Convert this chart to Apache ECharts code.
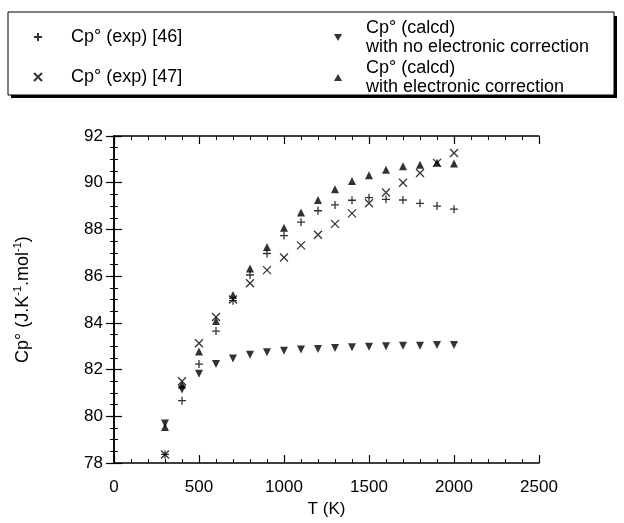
<!DOCTYPE html>
<html>
<head>
<meta charset="utf-8">
<script src="https://cdn.jsdelivr.net/npm/echarts@6/dist/echarts.min.js"></script>
<style>
html,body{margin:0;padding:0;background:#fff;}
#chart{width:624px;height:523px;}
</style>
</head>
<body>
<div id="chart"></div>
<script>
// ---- data ----
var temps = [300,400,500,600,700,800,900,1000,1100,1200,1300,1400,1500,1600,1700,1800,1900,2000];
var expRef46 = [78.37,80.67,82.24,83.65,84.95,86.05,86.97,87.74,88.31,88.80,89.05,89.25,89.36,89.29,89.26,89.12,89.00,88.87];
var expRef47 = [78.37,81.50,83.13,84.25,85.00,85.70,86.26,86.80,87.32,87.77,88.24,88.69,89.12,89.58,90.00,90.42,90.85,91.27];
var calcNoCorr = [79.70,81.15,81.82,82.24,82.48,82.64,82.74,82.81,82.86,82.88,82.93,82.96,82.98,83.00,83.02,83.02,83.05,83.06];
var calcCorr = [79.55,81.35,82.78,84.08,85.20,86.33,87.25,88.07,88.73,89.26,89.72,90.07,90.32,90.56,90.70,90.77,90.85,90.82];
var xTicks = {min:0, max:2500, interval:500};
var yTicks = {min:78, max:92, interval:2};
var names = ['Cp° (exp) [46]', 'Cp° (exp) [47]', 'Cp° (calcd)\nwith no electronic correction', 'Cp° (calcd)\nwith electronic correction'];

function pairs(ys){ return temps.map(function(t,i){ return [t, ys[i]]; }); }

var FONT = 'Liberation Sans';
var plusSym = 'path://M0,5L10,5M5,0L5,10';
var crossSym = 'path://M0,0L10,10M10,0L0,10';
var upSym = 'path://M5,0L10,9L0,9Z';
var downSym = 'path://M0,0L10,0L5,9Z';

var chart = echarts.init(document.getElementById('chart'));

function axisCommon(showLabel){
  return {
    axisLine:{show:true, lineStyle:{color:'#000', width:1.5}},
    axisTick:{show:true, inside:true, length:8, lineStyle:{color:'#000', width:1.2}},
    minorTick:{show:true, length:4, lineStyle:{color:'#000', width:1}},
    splitLine:{show:false},
    axisLabel:{show:showLabel, color:'#000', fontFamily:FONT, fontSize:17,
      formatter:function(v){ return String(v); }}
  };
}

var xb = Object.assign(axisCommon(true), {type:'value', position:'bottom', min:xTicks.min, max:xTicks.max, interval:xTicks.interval,
  name:'T (K)', nameLocation:'middle', nameGap:36, nameTextStyle:{color:'#000', fontFamily:FONT, fontSize:17}});
xb.minorTick.splitNumber = 5; xb.axisLabel.margin = 16;
var xt = Object.assign(axisCommon(false), {type:'value', position:'top', min:xTicks.min, max:xTicks.max, interval:xTicks.interval});
xt.minorTick.splitNumber = 5;
var yl = Object.assign(axisCommon(true), {type:'value', position:'left', min:yTicks.min, max:yTicks.max, interval:yTicks.interval,
  name:'{a|Cp° (J.K}{s|-1}{a|.mol}{s|-1}{a|)}', nameLocation:'middle', nameGap:80,
  nameTextStyle:{color:'#000', fontFamily:FONT, fontSize:18,
    rich:{a:{fontFamily:FONT, fontSize:18, lineHeight:22, color:'#000'},
          s:{fontFamily:FONT, fontSize:11, lineHeight:11, verticalAlign:'top', color:'#000'}}}});
yl.minorTick.splitNumber = 4; yl.axisLabel.margin = 11;
var yr = Object.assign(axisCommon(false), {type:'value', position:'right', min:yTicks.min, max:yTicks.max, interval:yTicks.interval});
yr.minorTick.splitNumber = 4;

var lineItem = {color:'rgba(0,0,0,0)', borderColor:'#000', borderWidth:1.3};
var fillItem = {color:'#000'};
var legText = {color:'#000', fontFamily:FONT, fontSize:18, lineHeight:19};

chart.setOption({
  animation:false,
  backgroundColor:'#fff',
  grid:{left:114, right:85, top:136, bottom:56},
  xAxis:[xb, xt],
  yAxis:[yl, yr],
  graphic:[
    {type:'rect', shape:{x:11, y:16, width:606, height:82}, style:{fill:'#000'}, z:0, silent:true},
    {type:'rect', shape:{x:8, y:12, width:606, height:83}, style:{fill:'#fff', stroke:'#000', lineWidth:1}, z:1, silent:true}
  ],
  legend:[
    {data:[{name:names[0], icon:plusSym}, {name:names[1], icon:crossSym}], orient:'vertical', left:33, top:27.5, padding:0,
     itemWidth:8, itemHeight:8, itemGap:21,
     textStyle:Object.assign({padding:[0,0,0,24]}, legText), z:10},
    {data:[{name:names[2], icon:downSym}, {name:names[3], icon:upSym}], orient:'vertical', left:334, top:18.5, padding:0,
     itemWidth:8, itemHeight:8, itemGap:2,
     textStyle:Object.assign({padding:[0,0,0,19]}, legText), z:10}
  ],
  series:[
    {name:names[0], type:'scatter', data:pairs(expRef46), symbol:plusSym, symbolSize:8, itemStyle:lineItem, z:3},
    {name:names[1], type:'scatter', data:pairs(expRef47), symbol:crossSym, symbolSize:8, itemStyle:lineItem, z:4},
    {name:names[2], type:'scatter', data:pairs(calcNoCorr), symbol:downSym, symbolSize:8, itemStyle:fillItem, z:2},
    {name:names[3], type:'scatter', data:pairs(calcCorr), symbol:upSym, symbolSize:8, itemStyle:fillItem, z:2}
  ]
});
</script>
</body>
</html>
